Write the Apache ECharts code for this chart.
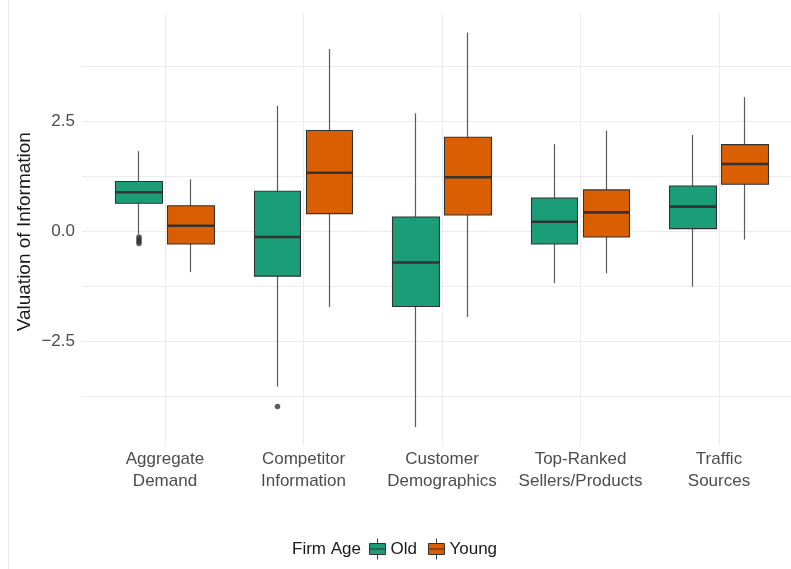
<!DOCTYPE html>
<html>
<head>
<meta charset="utf-8">
<script src="https://cdn.jsdelivr.net/npm/echarts@6/dist/echarts.min.js"></script>
<style>
html,body{margin:0;padding:0;background:#fff;}
#chart{width:791px;height:569px;}
</style>
</head>
<body>
<div id="chart"></div>
<script>
// ---- data ----
const categories = ['Aggregate\nDemand', 'Competitor\nInformation', 'Customer\nDemographics', 'Top-Ranked\nSellers/Products', 'Traffic\nSources'];
const oldMin = [-0.05, -3.52, -4.44, -1.17, -1.25];
const oldQ1  = [0.645, -1.01, -1.70, -0.28, 0.07];
const oldMed = [0.895, -0.12, -0.70, 0.227, 0.57];
const oldQ3  = [1.14, 0.92, 0.334, 0.766, 1.04];
const oldMax = [1.83, 2.86, 2.69, 1.99, 2.20];
const youngMin = [-0.92, -1.71, -1.94, -0.945, -0.18];
const youngQ1  = [-0.28, 0.41, 0.38, -0.12, 1.08];
const youngMed = [0.136, 1.34, 1.236, 0.44, 1.54];
const youngQ3  = [0.59, 2.30, 2.145, 0.95, 1.98];
const youngMax = [1.19, 4.15, 4.53, 2.30, 3.06];
const oldOutlierCat = [0, 0, 0, 0, 1];
const oldOutlierVal = [-0.12, -0.17, -0.22, -0.27, -3.97];
const yTickValues = [-2.5, 0, 2.5];
const yTickLabels = ['\u22122.5', '0.0', '2.5'];
const groupNames = ['Old', 'Young'];
const legendTitle = 'Firm Age';
const yTitle = 'Valuation of Information';

// ---- style ----
const FONT = 'Liberation Sans, Arial, Helvetica, sans-serif';
const COLORS = ['#1b9e77', '#d95f02'];
const GRID_COLOR = '#ebebeb';
const Y_MIN = -5, Y_MAX = 5;
const PLOT_TOP = 11.7, PLOT_H = 440;
const BAND = 138.5, DODGE = 26, FIRST_CENTER = 165;

function whiskers(mn, mx) { return mn.map((v, i) => [v, mx[i], v, mx[i]]); }
function boxes(q1, q3) { return q1.map((v, i) => [v, q3[i], v, q3[i]]); }
function medians(m) { return m.map(v => [v, v, v, v]); }

function groupSeries(name, idx, mn, q1, med, q3, mx) {
  const axis = 2 + idx;
  const common = { name: name, type: 'candlestick', xAxisIndex: axis, yAxisIndex: axis, silent: true, animation: false };
  return [
    Object.assign({}, common, {
      data: whiskers(mn, mx), barWidth: 0, z: 2,
      itemStyle: { color: 'transparent', color0: 'transparent', borderColor: '#5a5a5a', borderColor0: '#5a5a5a', borderWidth: 1.2 }
    }),
    Object.assign({}, common, {
      data: boxes(q1, q3), barWidth: 47, z: 3,
      itemStyle: { color: COLORS[idx], color0: COLORS[idx], borderColor: '#333333', borderColor0: '#333333', borderWidth: 1.1 }
    }),
    Object.assign({}, common, {
      data: medians(med), barWidth: 47, z: 4,
      itemStyle: { color: '#333333', color0: '#333333', borderColor: '#333333', borderColor0: '#333333', borderWidth: 2.6 }
    })
  ];
}

const hiddenY = (g) => ({ type: 'value', gridIndex: g, min: Y_MIN, max: Y_MAX, show: false });
const legendIcon = 'path://M0,5 L16,5 L16,16 L0,16 Z M0,10.5 L16,10.5 M8,0 L8,5 M8,16 L8,21';

const option = {
  backgroundColor: '#ffffff',
  animation: false,
  textStyle: { fontFamily: FONT },
  grid: [
    { left: 82, right: 0, top: PLOT_TOP, height: PLOT_H, outerBoundsMode: 'none' },
    { left: FIRST_CENTER, width: BAND * 4, top: 13, height: 432, outerBoundsMode: 'none' },
    { left: FIRST_CENTER - DODGE - BAND / 2, width: BAND * 5, top: PLOT_TOP, height: PLOT_H, outerBoundsMode: 'none' },
    { left: FIRST_CENTER + DODGE - BAND / 2, width: BAND * 5, top: PLOT_TOP, height: PLOT_H, outerBoundsMode: 'none' }
  ],
  xAxis: [
    { type: 'value', gridIndex: 0, show: false, min: 0, max: 1 },
    {
      type: 'category', gridIndex: 1, data: categories, boundaryGap: false,
      axisLine: { show: false }, axisTick: { show: false },
      splitLine: { show: true, lineStyle: { color: GRID_COLOR, width: 1 } },
      axisLabel: { interval: 0, fontSize: 17, lineHeight: 22, color: '#4d4d4d', margin: 3, fontFamily: FONT }
    },
    { type: 'category', gridIndex: 2, data: categories, show: false },
    { type: 'category', gridIndex: 3, data: categories, show: false }
  ],
  yAxis: [
    {
      type: 'value', gridIndex: 0, min: Y_MIN, max: Y_MAX, interval: 1.25,
      axisLine: { show: false }, axisTick: { show: false },
      splitLine: { show: true, showMinLine: false, showMaxLine: false, lineStyle: { color: GRID_COLOR, width: 1 } },
      axisLabel: {
        fontSize: 17, color: '#4d4d4d', margin: 7, fontFamily: FONT,
        formatter: function (v) {
          const k = yTickValues.findIndex(t => Math.abs(t - v) < 1e-9);
          return k >= 0 ? yTickLabels[k] : '';
        }
      },
      name: yTitle, nameLocation: 'middle', nameGap: 48, nameMoveOverlap: false,
      nameTextStyle: { fontSize: 19, color: '#1a1a1a', fontFamily: FONT }
    },
    { type: 'value', gridIndex: 1, show: false },
    hiddenY(2),
    hiddenY(3)
  ],
  legend: {
    left: 364, top: 533,
    itemWidth: 16, itemHeight: 21, itemGap: 11, itemTextGap: 13,
    selectedMode: false,
    textStyle: { fontSize: 17, color: '#1a1a1a', fontFamily: FONT },
    data: groupNames.map((n, i) => ({
      name: n, icon: legendIcon,
      itemStyle: { color: COLORS[i], borderColor: '#333333', borderWidth: 1 }
    }))
  },
  graphic: [
    { type: 'text', x: 292, y: 549, silent: true,
      style: { text: legendTitle, fontSize: 17, fontFamily: FONT, fill: '#1a1a1a', verticalAlign: 'middle' } },
    { type: 'line', silent: true, shape: { x1: 8.5, y1: 0, x2: 8.5, y2: 569 }, style: { stroke: '#e8e8e8', lineWidth: 1 } }
  ],
  series: [].concat(
    groupSeries(groupNames[0], 0, oldMin, oldQ1, oldMed, oldQ3, oldMax),
    groupSeries(groupNames[1], 1, youngMin, youngQ1, youngMed, youngQ3, youngMax),
    [{
      name: groupNames[0], type: 'scatter', xAxisIndex: 2, yAxisIndex: 2, silent: true, z: 5,
      symbolSize: 5.5, itemStyle: { color: '#333333' },
      data: oldOutlierCat.map((c, i) => [c, oldOutlierVal[i]])
    }]
  )
};

const chart = echarts.init(document.getElementById('chart'), null, { renderer: 'canvas' });
chart.setOption(option);
</script>
</body>
</html>
